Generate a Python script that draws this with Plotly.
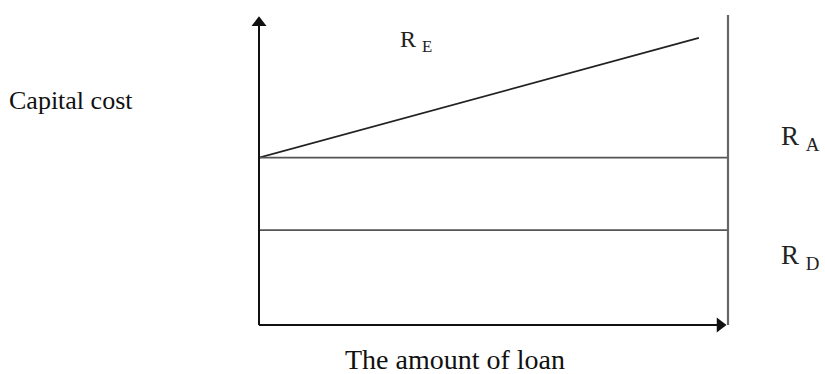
import plotly.graph_objects as go

# loan amount (x) and capital cost levels (y)
loan = [0, 9.38]
r_e = [5.4, 9.26]   # cost of equity, rises with leverage
r_a = [5.4, 5.4]    # overall cost of capital, flat
r_d = [3.06, 3.06]  # cost of debt, flat
x_max = 10
y_max = 10

serif = "Liberation Serif, Times New Roman, serif"
line_col = "#555555"
axis_col = "#111111"

fig = go.Figure()

# the three cost curves
fig.add_trace(go.Scatter(x=loan, y=r_e, mode="lines",
                         line=dict(color="#222222", width=1.7), hoverinfo="skip"))
fig.add_trace(go.Scatter(x=[0, x_max], y=r_a, mode="lines",
                         line=dict(color=line_col, width=1.7), hoverinfo="skip"))
fig.add_trace(go.Scatter(x=[0, x_max], y=r_d, mode="lines",
                         line=dict(color=line_col, width=1.7), hoverinfo="skip"))

# axis lines and the right hand vertical line (paper refs so nothing is clipped)
fig.add_shape(type="line", xref="paper", yref="paper", x0=0, x1=0, y0=0, y1=0.97,
              line=dict(color=axis_col, width=2))
fig.add_shape(type="line", xref="paper", yref="paper", x0=0, x1=0.98, y0=0, y1=0,
              line=dict(color=axis_col, width=2))
fig.add_shape(type="line", xref="paper", yref="paper", x0=1, x1=1, y0=0, y1=1.0,
              line=dict(color="#666666", width=2.2))

# arrow heads
fig.add_trace(go.Scatter(x=[0], y=[y_max - 0.25], mode="markers", cliponaxis=False,
                         marker=dict(symbol="triangle-up", size=13, color=axis_col),
                         hoverinfo="skip"))
fig.add_trace(go.Scatter(x=[x_max - 0.17], y=[0], mode="markers", cliponaxis=False,
                         marker=dict(symbol="triangle-right", size=13, color=axis_col),
                         hoverinfo="skip"))

# labels, placed in paper coords (outside the plot area)
def px(xp):
    return (xp - 259) / 469.0

def py(yp):
    return (325 - yp) / 310.0

lab_font = dict(family=serif, size=27, color="#222222")
fig.add_annotation(x=px(398), y=py(41), xref="paper", yref="paper",
                   text="R&nbsp;<sub>E</sub>",
                   showarrow=False, xanchor="left", yanchor="middle",
                   font=dict(family=serif, size=24, color="#222222"))
fig.add_annotation(x=px(779), y=py(138), xref="paper", yref="paper",
                   text="R&nbsp;<sub>A</sub>",
                   showarrow=False, xanchor="left", yanchor="middle", font=lab_font)
fig.add_annotation(x=px(779), y=py(257), xref="paper", yref="paper",
                   text="R&nbsp;<sub>D</sub>",
                   showarrow=False, xanchor="left", yanchor="middle", font=lab_font)
fig.add_annotation(x=px(7), y=py(100), xref="paper", yref="paper", text="Capital cost",
                   showarrow=False, xanchor="left", yanchor="middle",
                   font=dict(family=serif, size=26, color="#111111"))
fig.add_annotation(x=px(455), y=py(360), xref="paper", yref="paper",
                   text="The amount of loan", showarrow=False,
                   xanchor="center", yanchor="middle",
                   font=dict(family=serif, size=28, color="#111111"))

fig.update_xaxes(range=[0, x_max], visible=False)
fig.update_yaxes(range=[0, y_max], visible=False)
fig.update_layout(width=825, height=374, showlegend=False,
                  margin=dict(l=259, r=97, t=15, b=49),
                  plot_bgcolor="white", paper_bgcolor="white")

# drop the page's default body margin so the 825x374 figure fills the window
fig.write_html("out.html", config={"displayModeBar": False},
               post_script="document.body.style.margin='0';"
                           "document.body.style.overflow='hidden';")
